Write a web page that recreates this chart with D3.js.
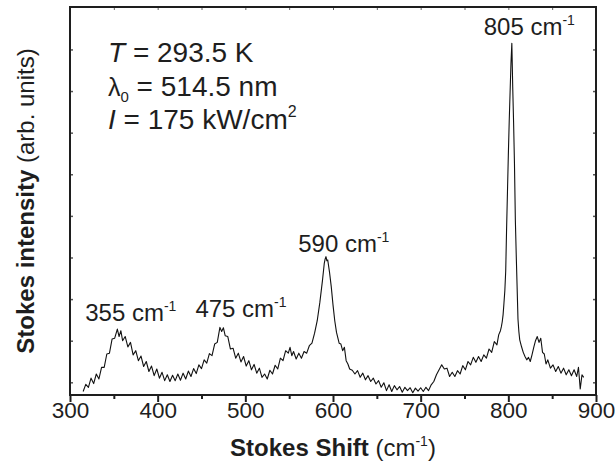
<!DOCTYPE html>
<html>
<head>
<meta charset="utf-8">
<script src="https://cdn.jsdelivr.net/npm/d3@7"></script>
<style>
  body { margin: 0; background: #fff; }
  svg { display: block; font-family: "Liberation Sans", Arial, sans-serif; }
</style>
</head>
<body>
<svg id="chart"></svg>
<script>
// spectrum (cm-1, arb. units)
let shift = [
  315,318,321,324,327,330,333,336,339,342,345,348,351,354,356,358,360,363,366,369,
  372,375,378,381,384,387,390,393,396,399,402,405,408,411,414,417,420,423,426,429,
  432,435,438,441,444,447,450,453,456,459,462,465,468,471,473,475,477,480,483,486,
  489,492,495,498,501,504,507,510,513,516,519,522,525,528,531,534,537,540,543,546,
  549,551,553,555,558,561,564,567,570,573,576,579,582,585,588,590,591,592,593,594,
  596,598,600,602,604,607,609,611,613,615,617,619,622,625,628,631,634,637,640,643,
  646,649,652,655,658,661,664,667,670,673,676,679,682,685,688,691,694,697,700,703,
  706,709,712,715,718,721,724,727,730,733,736,739,742,745,748,751,754,757,760,763,
  766,769,772,775,778,781,784,787,789,791,792,793,794,795,796,797,798,799,800,801,
  802,803,804,805,806,807,808,809,810,811,812,813,815,817,819,821,823,825,827,829,
  831,833,835,837,839,841,843,845,848,851,854,857,860,863,866,869,872,875,878,880,
  882,884,886
]
let intensity = [
  0.78,0.95,0.88,1.10,0.97,1.20,1.08,1.36,1.36,1.68,1.70,2.04,2.06,2.28,2.10,2.24,2.00,2.10,1.85,1.96,
  1.66,1.76,1.52,1.63,1.38,1.50,1.26,1.39,1.16,1.32,1.10,1.24,1.04,1.18,1.02,1.17,1.04,1.20,1.05,1.22,
  1.08,1.27,1.14,1.33,1.21,1.42,1.33,1.54,1.46,1.69,1.64,1.92,1.96,2.32,2.22,2.31,2.12,2.10,1.80,1.82,
  1.58,1.70,1.49,1.62,1.39,1.52,1.30,1.43,1.22,1.34,1.12,1.20,1.08,1.29,1.20,1.41,1.32,1.58,1.52,1.76,
  1.70,1.84,1.64,1.74,1.56,1.70,1.58,1.74,1.70,1.88,1.94,2.18,2.48,2.92,3.45,3.85,3.96,4.02,3.92,3.94,
  3.65,3.30,2.86,2.48,2.20,1.94,1.92,1.76,1.84,1.52,1.44,1.32,1.29,1.20,1.28,1.12,1.22,1.06,1.16,1.02,
  1.10,0.96,1.04,0.88,0.99,0.80,0.94,0.78,0.92,0.82,0.90,0.76,0.88,0.80,0.87,0.75,0.86,0.79,0.87,0.78,
  0.88,0.80,0.94,1.02,1.18,1.30,1.42,1.32,1.34,1.14,1.24,1.14,1.28,1.20,1.40,1.30,1.50,1.42,1.60,1.48,
  1.62,1.50,1.66,1.58,1.80,1.72,1.98,1.90,2.14,2.24,2.33,2.45,2.62,2.90,3.20,3.67,4.68,5.57,6.46,7.27,
  7.97,8.66,9.15,8.10,7.24,6.25,4.90,4.07,3.30,2.52,2.22,2.02,1.86,1.72,1.62,1.54,1.60,1.50,1.66,1.84,
  2.00,2.10,1.96,2.06,1.72,1.68,1.44,1.54,1.34,1.42,1.26,1.38,1.22,1.34,1.18,1.30,1.16,1.30,1.14,1.36,
  0.84,1.18,1.12
]
let xTicks = [300, 400, 500, 600, 700, 800, 900]
let xMinor = [350, 450, 550, 650, 750, 850]
let yTicks = [1, 2, 3, 4, 5, 6, 7, 8, 9]
let peakShift = [355, 475, 590, 805]
let peakLabel = ['355', '475', '590', '805']

let width = 615, height = 466
let plotLeft = 70, plotRight = 596, plotTop = 7, plotBottom = 395

let svg = d3.select('#chart')
            .attr('width', width)
            .attr('height', height)

let x = d3.scaleLinear().domain([300, 900]).range([plotLeft, plotRight])
let y = d3.scaleLinear().domain([0.695, 10.02]).range([plotBottom, plotTop])

let ink = '#1e1e1e'

// ticks (drawn before the frame so the frame sits on top)
svg.append('g')
    .attr('transform', 'translate(0,' + plotBottom + ')')
    .call(d3.axisBottom(x).tickValues(xTicks).tickSize(7).tickFormat(d3.format('d')))
    .call(g => g.select('.domain').remove())
    .call(g => g.selectAll('line').attr('stroke', ink).attr('stroke-width', 2))
    .call(g => g.selectAll('text').attr('font-size', '22.5px').attr('fill', ink).attr('dy', 0).attr('y', 23))

svg.append('g')
    .attr('transform', 'translate(0,' + plotBottom + ')')
    .call(d3.axisBottom(x).tickValues(xMinor).tickSize(4).tickFormat(''))
    .call(g => g.select('.domain').remove())
    .call(g => g.selectAll('line').attr('stroke', ink).attr('stroke-width', 2))

// top axis: small inward ticks
svg.append('g')
    .attr('transform', 'translate(0,' + plotTop + ')')
    .call(d3.axisBottom(x).tickValues(xTicks.concat(xMinor)).tickSize(3).tickFormat(''))
    .call(g => g.select('.domain').remove())
    .call(g => g.selectAll('line').attr('stroke', '#666').attr('stroke-width', 1))

// left and right axes: inward ticks, no labels
svg.append('g')
    .attr('transform', 'translate(' + plotLeft + ',0)')
    .call(d3.axisRight(y).tickValues(yTicks).tickSize(3).tickFormat(''))
    .call(g => g.select('.domain').remove())
    .call(g => g.selectAll('line').attr('stroke', '#555').attr('stroke-width', 1.5))

svg.append('g')
    .attr('transform', 'translate(' + plotRight + ',0)')
    .call(d3.axisLeft(y).tickValues(yTicks).tickSize(3).tickFormat(''))
    .call(g => g.select('.domain').remove())
    .call(g => g.selectAll('line').attr('stroke', '#555').attr('stroke-width', 1.5))

// spectrum
let line = d3.line()
    .x((d, i) => x(shift[i]))
    .y((d) => y(d))

svg.append('path')
    .datum(intensity)
    .attr('d', line)
    .attr('fill', 'none')
    .attr('stroke', '#111')
    .attr('stroke-width', 1.1)
    .attr('stroke-linejoin', 'round')

// frame
svg.append('rect')
    .attr('x', plotLeft)
    .attr('y', plotTop)
    .attr('width', plotRight - plotLeft)
    .attr('height', plotBottom - plotTop)
    .attr('fill', 'none')
    .attr('stroke', ink)
    .attr('stroke-width', 2)

// peak labels
let labelDx = [-33, -28, -26, -29]
let labelDy = [-8, -10, -5, -8]
peakShift.forEach((p, i) => {
    let peakTop = d3.max(intensity.filter((v, j) => Math.abs(shift[j] - p) <= 6))
    let t = svg.append('text')
        .attr('x', x(p) + labelDx[i])
        .attr('y', y(peakTop) + labelDy[i])
        .attr('font-size', '24px')
        .attr('fill', ink)
    t.append('tspan').text(peakLabel[i] + ' cm')
    t.append('tspan').attr('font-size', '14px').attr('dy', -10).text('-1')
})

// conditions
let note = svg.append('g').attr('fill', ink).attr('font-size', '28px')
let l1 = note.append('text').attr('x', 108).attr('y', 62)
l1.append('tspan').attr('font-style', 'italic').text('T')
l1.append('tspan').text(' = 293.5 K')

let l2 = note.append('text').attr('x', 108).attr('y', 96)
l2.append('tspan').attr('font-size', '25px').text('λ')
l2.append('tspan').attr('font-size', '15px').attr('dy', 6).text('0')
l2.append('tspan').attr('dy', -6).text(' = 514.5 nm')

let l3 = note.append('text').attr('x', 108).attr('y', 129)
l3.append('tspan').attr('font-style', 'italic').text('I')
l3.append('tspan').text(' = 175 kW/cm')
l3.append('tspan').attr('font-size', '16px').attr('dy', -12).text('2')

// axis titles
let xt = svg.append('text')
    .attr('x', (plotLeft + plotRight) / 2)
    .attr('y', 456)
    .attr('text-anchor', 'middle')
    .attr('font-size', '24px')
    .attr('fill', ink)
xt.append('tspan').attr('font-weight', 'bold').text('Stokes Shift')
xt.append('tspan').text(' (cm')
xt.append('tspan').attr('font-size', '14px').attr('dy', -10).text('-1')
xt.append('tspan').attr('dy', 10).text(')')

let yt = svg.append('text')
    .attr('transform', 'translate(34,' + ((plotTop + plotBottom) / 2) + ') rotate(-90)')
    .attr('text-anchor', 'middle')
    .attr('font-size', '24px')
    .attr('fill', ink)
yt.append('tspan').attr('font-weight', 'bold').text('Stokes intensity')
yt.append('tspan').text(' (arb. units)')
</script>
</body>
</html>
